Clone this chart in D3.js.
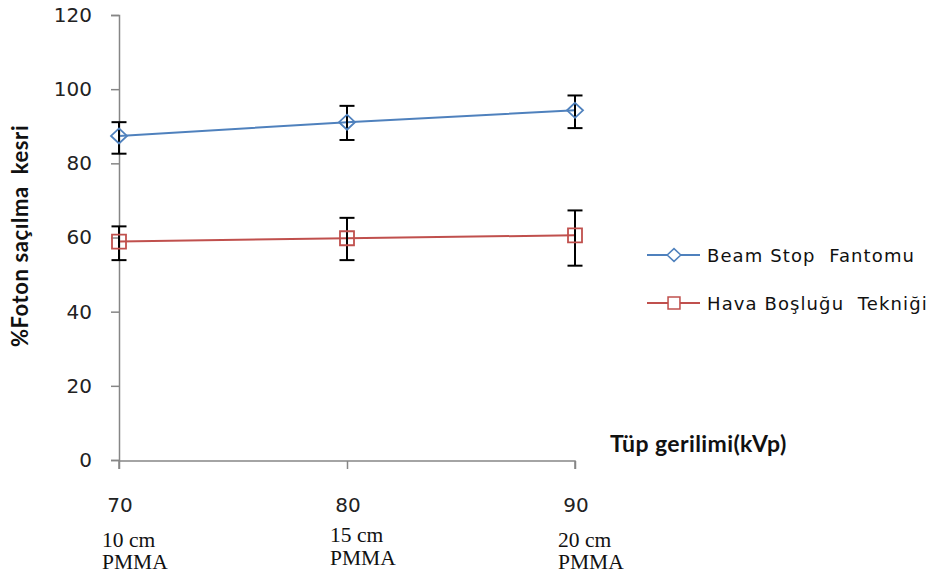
<!DOCTYPE html>
<html>
<head>
<meta charset="utf-8">
<script src="https://cdn.jsdelivr.net/npm/d3@7/dist/d3.min.js"></script>
<style>
  html, body { margin: 0; padding: 0; background: #fff; }
  svg { display: block; }
</style>
</head>
<body>
<svg id="chart" width="935" height="581"></svg>
<script>
// Tube voltage categories and phantom thickness notes
const kvp = [70, 80, 90];
const thickness = ["10 cm", "15 cm", "20 cm"];
const material = ["PMMA", "PMMA", "PMMA"];

// Scatter fraction (%) for each technique, with error-bar limits
const beamStop = [87.4, 91.1, 94.3];
const beamStopLow = [82.6, 86.3, 89.5];
const beamStopHigh = [91.1, 95.5, 98.3];

const airGap = [58.9, 59.8, 60.6];
const airGapLow = [53.9, 53.9, 52.4];
const airGapHigh = [63.0, 65.3, 67.3];

const yTicks = [0, 20, 40, 60, 80, 100, 120];
const seriesNames = ["Beam Stop  Fantomu", "Hava Boşluğu  Tekniği"];

const series = [
  { name: seriesNames[0], values: beamStop, low: beamStopLow, high: beamStopHigh, color: "#4F81BD", marker: "diamond" },
  { name: seriesNames[1], values: airGap, low: airGapLow, high: airGapHigh, color: "#C0504D", marker: "square" }
];

const svg = d3.select("#chart");
const axisColor = "#868686";

const x = d3.scalePoint().domain(kvp).range([119, 575]);
const y = d3.scaleLinear().domain([0, 120]).range([460, 15]);

// Y axis
const yAxis = svg.append("g")
  .attr("transform", "translate(119,0)")
  .call(d3.axisLeft(y).tickValues(yTicks).tickSize(8).tickPadding(19));
yAxis.select(".domain").attr("stroke", axisColor).attr("stroke-width", 1.5);
yAxis.selectAll(".tick line").attr("stroke", axisColor).attr("stroke-width", 1.5);
yAxis.selectAll(".tick text")
  .attr("font-family", "DejaVu Sans, Verdana, sans-serif")
  .attr("font-size", 20)
  .attr("fill", "#222");

// X axis (line and ticks only; labels drawn below with notes)
const xAxis = svg.append("g")
  .attr("transform", "translate(0,461)")
  .call(d3.axisBottom(x).tickSize(8).tickFormat(""));
xAxis.select(".domain").attr("stroke", axisColor).attr("stroke-width", 1.5)
  .attr("d", `M${x(70)},8V0H${x(90)}V8`);
xAxis.selectAll(".tick line").attr("stroke", axisColor).attr("stroke-width", 1.5);

const xLabels = svg.append("g");
kvp.forEach((k, i) => {
  const g = xLabels.append("g").attr("transform", `translate(${x(k)},0)`);
  g.append("text")
    .attr("x", 1).attr("y", 512)
    .attr("text-anchor", "middle")
    .attr("font-family", "DejaVu Sans, Verdana, sans-serif")
    .attr("font-size", 20)
    .attr("fill", "#222")
    .text(k);
  g.append("text")
    .attr("x", -17).attr("y", i === 1 ? 542 : 547)
    .attr("font-family", "Liberation Serif, Times New Roman, serif")
    .attr("font-size", 21.5)
    .attr("fill", "#111")
    .text(thickness[i]);
  g.append("text")
    .attr("x", -17).attr("y", i === 1 ? 565 : 569)
    .attr("font-family", "Liberation Serif, Times New Roman, serif")
    .attr("font-size", 21.5)
    .attr("fill", "#111")
    .text(material[i]);
});

// Axis titles
svg.append("text")
  .attr("x", 610).attr("y", 452)
  .attr("font-family", "Lato, Open Sans, sans-serif")
  .attr("font-weight", "bold")
  .attr("font-size", 23)
  .attr("letter-spacing", 0.4)
  .attr("fill", "#111")
  .text("Tüp gerilimi(kVp)");

svg.append("text")
  .attr("transform", "translate(28,236) rotate(-90)")
  .attr("text-anchor", "middle")
  .attr("font-family", "Lato, Open Sans, sans-serif")
  .attr("font-weight", "bold")
  .attr("font-size", 22)
  .attr("letter-spacing", 0.6)
  .attr("fill", "#111")
  .style("white-space", "pre")
  .text("%Foton saçılma  kesri");

// Marker shapes
function markerPath(type) {
  if (type === "diamond") return "M0,-7.5L8,0L0,7.5L-8,0Z";
  return "M-7,-7H7V7H-7Z";
}

// Lines
const line = d3.line().x((d, i) => x(kvp[i])).y(d => y(d));
series.forEach(s => {
  svg.append("path")
    .datum(s.values)
    .attr("d", line)
    .attr("fill", "none")
    .attr("stroke", s.color)
    .attr("stroke-width", 2);
});

// Error bars
series.forEach(s => {
  const g = svg.append("g");
  kvp.forEach((k, i) => {
    const cx = x(k);
    g.append("line").attr("x1", cx).attr("x2", cx)
      .attr("y1", y(s.low[i])).attr("y2", y(s.high[i]))
      .attr("stroke", "#000").attr("stroke-width", 2);
    [s.low[i], s.high[i]].forEach(v => {
      g.append("line").attr("x1", cx - 7.5).attr("x2", cx + 7.5)
        .attr("y1", y(v)).attr("y2", y(v))
        .attr("stroke", "#000").attr("stroke-width", 2);
    });
  });
});

// Markers
series.forEach(s => {
  svg.append("g").selectAll("path")
    .data(s.values)
    .join("path")
    .attr("transform", (d, i) => `translate(${x(kvp[i])},${y(d)})`)
    .attr("d", markerPath(s.marker))
    .attr("fill", "none")
    .attr("stroke", s.color)
    .attr("stroke-width", 1.8);
});

// Legend
const legend = svg.append("g");
series.forEach((s, i) => {
  const ly = 255 + i * 48;
  const g = legend.append("g").attr("transform", `translate(0,${ly})`);
  g.append("line").attr("x1", 647).attr("x2", 700).attr("y1", 0).attr("y2", 0)
    .attr("stroke", s.color).attr("stroke-width", 2);
  g.append("path").attr("transform", "translate(674,0) scale(0.85)")
    .attr("d", markerPath(s.marker))
    .attr("fill", "#fff").attr("stroke", s.color).attr("stroke-width", 1.8);
  g.append("text")
    .attr("x", 707).attr("y", 7)
    .attr("font-family", "DejaVu Sans, Verdana, sans-serif")
    .attr("font-size", 18)
    .attr("letter-spacing", 1.1)
    .attr("fill", "#111")
    .style("white-space", "pre")
    .text(s.name);
});
</script>
</body>
</html>
